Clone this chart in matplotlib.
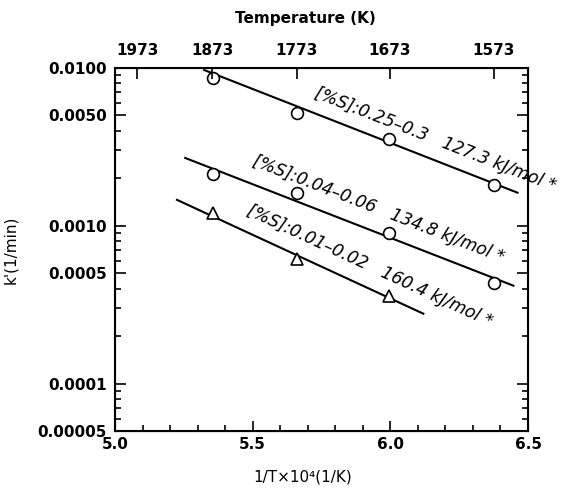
import numpy as np
import matplotlib
matplotlib.use("Agg")
import matplotlib.pyplot as plt
from matplotlib.ticker import FixedLocator, NullFormatter, LogLocator

plt.rcParams['font.family'] = ['DejaVu Sans']

# ---- data ----
x_pts = [5.355, 5.66, 5.995, 6.375]
s1_y = [0.00864, 0.00519, 0.00355, 0.00181]   # [%S]:0.25-0.3, circles
s2_y = [0.00213, 0.00161, 0.000899, 0.000434]  # [%S]:0.04-0.06, circles
x_tri = [5.355, 5.66, 5.995]
s3_y = [0.00120, 0.000615, 0.000358]           # [%S]:0.01-0.02, triangles

# fitted lines (end points)
fit1_x = [5.324, 6.462]; fit1_y = [0.00971, 0.00162]
fit2_x = [5.255, 6.447]; fit2_y = [0.00269, 0.000417]
fit3_x = [5.225, 6.120]; fit3_y = [0.00146, 0.000277]

labels = ["[%S]:0.25–0.3   127.3 kJ/mol *",
          "[%S]:0.04–0.06   134.8 kJ/mol *",
          "[%S]:0.01–0.02   160.4 kJ/mol *"]
label_pos = [(6.165, 0.0035), (5.958, 0.00127), (5.926, 0.000555)]

y_ticks = [0.01, 0.005, 0.001, 0.0005, 0.0001, 0.00005]
y_ticklabels = ["0.0100", "0.0050", "0.0010", "0.0005", "0.0001", "0.00005"]
x_ticks = [5.0, 5.5, 6.0, 6.5]
x_ticklabels = ["5.0", "5.5", "6.0", "6.5"]
top_ticks = [5.08, 5.353, 5.66, 5.998, 6.375]
top_labels = ["1973", "1873", "1773", "1673", "1573"]

fs = 11
fw = 'bold'

fig = plt.figure(figsize=(5.68, 4.92), dpi=100)
ax = fig.add_axes([115/568, 1-431/492, 413/568, 363/492])
ax.set_yscale('log')
ax.set_xlim(5.0, 6.5)
ax.set_ylim(0.00005, 0.01)

lw = 1.5
for fx, fy in [(fit1_x, fit1_y), (fit2_x, fit2_y), (fit3_x, fit3_y)]:
    ax.plot(fx, fy, color='black', lw=lw, zorder=2)
ax.plot(x_pts, s1_y, 'o', ms=8.5, mfc='white', mec='black', mew=1.2, zorder=3)
ax.plot(x_pts, s2_y, 'o', ms=8.5, mfc='white', mec='black', mew=1.2, zorder=3)
ax.plot(x_tri, s3_y, '^', ms=8.5, mfc='white', mec='black', mew=1.2, zorder=3)

fig.canvas.draw()
for (fx, fy), lab, (tx, ty) in zip([(fit1_x, fit1_y), (fit2_x, fit2_y), (fit3_x, fit3_y)],
                                   labels, label_pos):
    p = ax.transData.transform(np.column_stack([fx, fy]))
    ang = np.degrees(np.arctan2(p[1, 1]-p[0, 1], p[1, 0]-p[0, 0]))
    ax.text(tx, ty, lab, rotation=ang, rotation_mode='anchor', ha='center', va='center',
            fontsize=12.3, style='italic', zorder=4)

ax.yaxis.set_major_locator(FixedLocator(y_ticks))
ax.set_yticklabels(y_ticklabels, fontweight=fw)
ax.yaxis.set_minor_locator(LogLocator(base=10, subs=np.arange(2, 10)))
ax.yaxis.set_minor_formatter(NullFormatter())
ax.set_xticks(x_ticks)
ax.set_xticklabels(x_ticklabels, fontweight=fw)
ax.xaxis.set_minor_locator(FixedLocator(np.arange(5.1, 6.45, 0.1)))

ax.tick_params(which='both', direction='in', right=True, top=False, width=1.2, labelsize=fs)
ax.tick_params(axis='y', which='major', length=8, pad=6)
ax.tick_params(axis='y', which='minor', length=4)
ax.tick_params(axis='x', which='major', length=7, pad=4)
ax.tick_params(axis='x', which='minor', length=4)
for s in ax.spines.values():
    s.set_linewidth(1.5)

top = ax.twiny()
top.set_xlim(ax.get_xlim())
top.set_xticks(top_ticks)
top.set_xticklabels(top_labels, fontweight=fw)
top.xaxis.set_minor_locator(FixedLocator([]))
top.tick_params(axis='x', direction='in', length=8, width=1.2, labelsize=fs, pad=7)
top.set_xlabel("Temperature (K)", fontsize=fs, fontweight=fw)
top.xaxis.set_label_coords(0.46, 1.125)

ax.set_xlabel("1/T×10⁴(1/K)", fontsize=fs)
ax.xaxis.set_label_coords(0.455, -0.105)
ax.set_ylabel("k'(1/min)", fontsize=fs)
ax.yaxis.set_label_coords(-0.235, 0.5)

fig.savefig("out.png", dpi=100)
